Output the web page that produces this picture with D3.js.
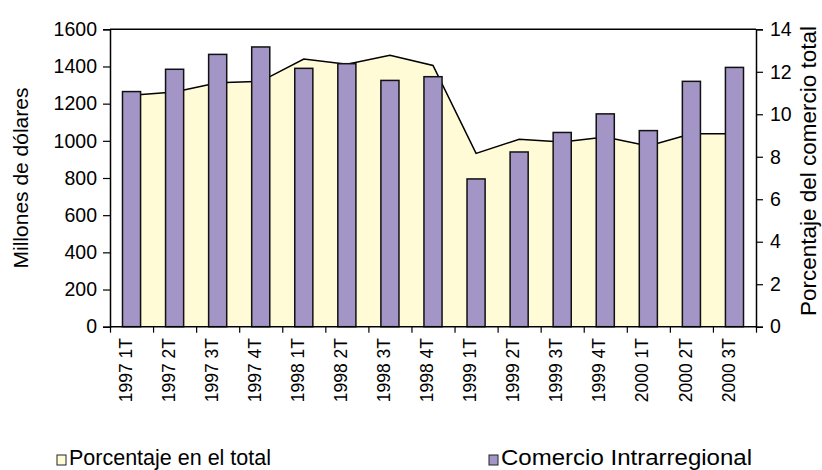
<!DOCTYPE html>
<html>
<head>
<meta charset="utf-8">
<script src="https://cdn.jsdelivr.net/npm/d3@7"></script>
<style>
  html, body { margin: 0; padding: 0; background: #ffffff; }
  svg { display: block; font-family: "Liberation Sans", Arial, sans-serif; }
</style>
</head>
<body>
<svg id="chart" width="822" height="470"></svg>
<script>
const categories = ["1997 1T","1997 2T","1997 3T","1997 4T","1998 1T","1998 2T","1998 3T","1998 4T",
                    "1999 1T","1999 2T","1999 3T","1999 4T","2000 1T","2000 2T","2000 3T"];
const comercio = [1265, 1385, 1465, 1505, 1390, 1415, 1325, 1345, 795, 940, 1045, 1145, 1055, 1320, 1395];
const porcentaje = [10.9, 11.05, 11.48, 11.55, 12.6, 12.36, 12.78, 12.3, 8.16, 8.82, 8.69, 8.93, 8.51, 9.08, 9.08];
const leftTicks = [0, 200, 400, 600, 800, 1000, 1200, 1400, 1600];
const rightTicks = [0, 2, 4, 6, 8, 10, 12, 14];
const leftTitle = "Millones de dólares";
const rightTitle = "Porcentaje del comercio total";
const legendLabels = ["Porcentaje en el total", "Comercio Intrarregional"];

const colBar = "#A395C5";
const colArea = "#FFFBD7";

const svg = d3.select("#chart");
const L = 110, R = 756, T = 29.3, B = 326.7;

const x = d3.scaleBand().domain(categories).range([L, R]).paddingInner(0.58).paddingOuter(0.29);
const xEdge = d3.scaleLinear().domain([0, categories.length]).range([L, R]);
const yL = d3.scaleLinear().domain([0, 1600]).range([B, T]);
const yR = d3.scaleLinear().domain([0, 14]).range([B, T]);
const cx = c => x(c) + x.bandwidth() / 2;

// area
const area = d3.area().x((d, i) => cx(categories[i])).y0(B).y1(d => yR(d));
svg.append("path").datum(porcentaje).attr("d", area).attr("fill", colArea).attr("stroke", "none");
const line = d3.line().x((d, i) => cx(categories[i])).y(d => yR(d));
svg.append("path").datum(porcentaje).attr("d", line).attr("fill", "none")
  .attr("stroke", "#000").attr("stroke-width", 1.5).attr("stroke-linejoin", "miter");

// bars
svg.append("g").selectAll("rect").data(comercio).join("rect")
  .attr("x", (d, i) => x(categories[i]))
  .attr("y", d => yL(d))
  .attr("width", x.bandwidth())
  .attr("height", d => B - yL(d))
  .attr("fill", colBar).attr("stroke", "#111").attr("stroke-width", 1.5);

// frame top
svg.append("line").attr("x1", L).attr("x2", R).attr("y1", T).attr("y2", T)
  .attr("stroke", "#000").attr("stroke-width", 1.5);

// axes
const gL = svg.append("g").attr("transform", `translate(${L},0)`)
  .call(d3.axisLeft(yL).tickValues(leftTicks).tickSize(7).tickPadding(6).tickFormat(d3.format("d")));
const gR = svg.append("g").attr("transform", `translate(${R},0)`)
  .call(d3.axisRight(yR).tickValues(rightTicks).tickSize(7).tickPadding(7).tickFormat(d3.format("d")));
const gB = svg.append("g").attr("transform", `translate(0,${B})`)
  .call(d3.axisBottom(xEdge).tickValues(d3.range(categories.length + 1)).tickSize(6).tickFormat(""));
[gL, gR, gB].forEach(g => {
  g.selectAll(".domain").attr("stroke", "#000").attr("stroke-width", 1.5);
  g.selectAll(".tick line").attr("stroke", "#000").attr("stroke-width", 1.2);
  g.selectAll("text").attr("font-size", 19.5).attr("fill", "#000")
    .attr("font-family", "'Liberation Sans', Arial, sans-serif");
});
gB.select(".domain").attr("d", `M${L},0H${R}`);

// category labels
svg.append("g").selectAll("text").data(categories).join("text")
  .attr("transform", d => `translate(${cx(d) - 6},338) rotate(-90)`)
  .attr("text-anchor", "end").attr("dy", "0.35em")
  .attr("font-size", 17.5).attr("fill", "#000").text(d => d);

// titles
svg.append("text").attr("transform", `translate(21,${(T + B) / 2}) rotate(-90)`)
  .attr("text-anchor", "middle").attr("dy", "0.35em").attr("font-size", 21).text(leftTitle);
svg.append("text").attr("transform", `translate(808,171) rotate(-90)`)
  .attr("text-anchor", "middle").attr("dy", "0.35em").attr("font-size", 22.5).text(rightTitle);

// legend
const legend = [
  {label: legendLabels[0], color: colArea, bx: 57, len: 202},
  {label: legendLabels[1], color: colBar, bx: 489, len: 251}
];
const lg = svg.append("g");
legend.forEach(d => {
  lg.append("rect").attr("x", d.bx).attr("y", 455).attr("width", 9).attr("height", 10)
    .attr("fill", d.color).attr("stroke", "#222").attr("stroke-width", 1);
  lg.append("text").attr("x", d.bx + 12).attr("y", 464.5).attr("font-size", 22)
    .attr("textLength", d.len).attr("lengthAdjust", "spacingAndGlyphs").text(d.label);
});
</script>
</body>
</html>
